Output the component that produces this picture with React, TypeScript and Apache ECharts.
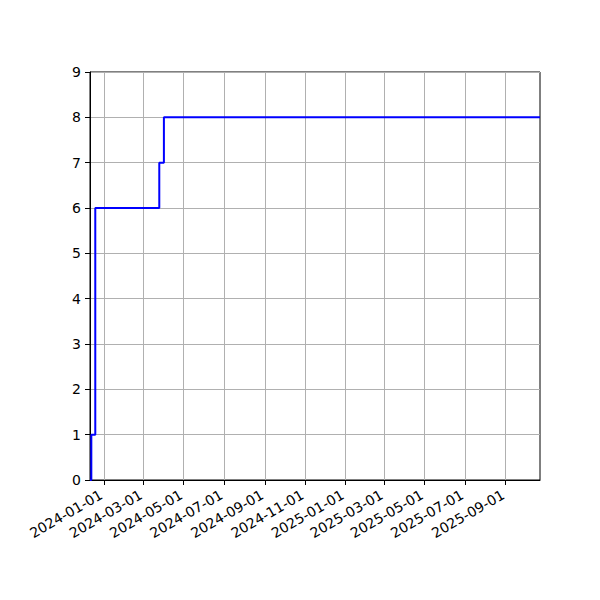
import { useEffect, useRef } from "react";
import * as echarts from "echarts";

// step points (date, cumulative value), drawn as a post step
const dates = ["2023-12-11", "2023-12-13", "2023-12-19", "2024-03-25", "2024-04-01", "2025-10-23"];
const values = [0, 1, 6, 7, 8, 8];
const tickDates = [
  "2024-01-01", "2024-03-01", "2024-05-01", "2024-07-01", "2024-09-01", "2024-11-01",
  "2025-01-01", "2025-03-01", "2025-05-01", "2025-07-01", "2025-09-01",
];
const xMin = "2023-12-11";
const xMax = "2025-10-23";

const ts = (s: string) => {
  const [y, m, d] = s.split("-").map(Number);
  return Date.UTC(y, m - 1, d);
};
const fmt = (v: number) => {
  const d = new Date(v);
  const p = (n: number) => String(n).padStart(2, "0");
  return `${d.getUTCFullYear()}-${p(d.getUTCMonth() + 1)}-${p(d.getUTCDate())}`;
};

export default function App() {
  const elRef = useRef<HTMLDivElement>(null);

  useEffect(() => {
    document.body.style.margin = "0";
    if (!elRef.current) return;
    const chart = echarts.init(elRef.current, undefined, { renderer: "svg" });
    const font = "DejaVu Sans";
    const ticks = tickDates.map(ts);
    chart.setOption({
      animation: false,
      backgroundColor: "#fff",
      textStyle: { fontFamily: font },
      grid: {
        left: 90, right: 60, top: 72, bottom: 120,
        show: true, borderColor: "#000", borderWidth: 1, backgroundColor: "transparent",
      },
      xAxis: {
        type: "value",
        min: ts(xMin),
        max: ts(xMax),
        axisLine: { show: true, lineStyle: { color: "#000", width: 1 } },
        axisTick: { show: true, inside: false, length: 5, customValues: ticks, lineStyle: { color: "#000" } },
        splitLine: { show: true, lineStyle: { color: "#b0b0b0", width: 1 } },
        axisLabel: {
          customValues: ticks,
          formatter: (v: number) => fmt(v),
          rotate: 30,
          margin: 12,
          padding: [0, 3, 0, 0],
          color: "#000",
          fontSize: 14,
          fontFamily: font,
        },
      },
      yAxis: {
        type: "value",
        min: 0,
        max: 9,
        interval: 1,
        axisLine: { show: true, lineStyle: { color: "#000", width: 1 } },
        axisTick: { show: true, inside: false, length: 5, lineStyle: { color: "#000" } },
        splitLine: { show: true, lineStyle: { color: "#b0b0b0", width: 1 } },
        axisLabel: { margin: 9, color: "#000", fontSize: 14, fontFamily: font },
      },
      series: [
        {
          type: "line",
          step: "end",
          showSymbol: false,
          lineStyle: { color: "#0000ff", width: 2 },
          data: dates.map((d, i) => [ts(d), values[i]]),
        },
      ],
    });
    return () => chart.dispose();
  }, []);

  return <div ref={elRef} style={{ width: 600, height: 600 }} />;
}
